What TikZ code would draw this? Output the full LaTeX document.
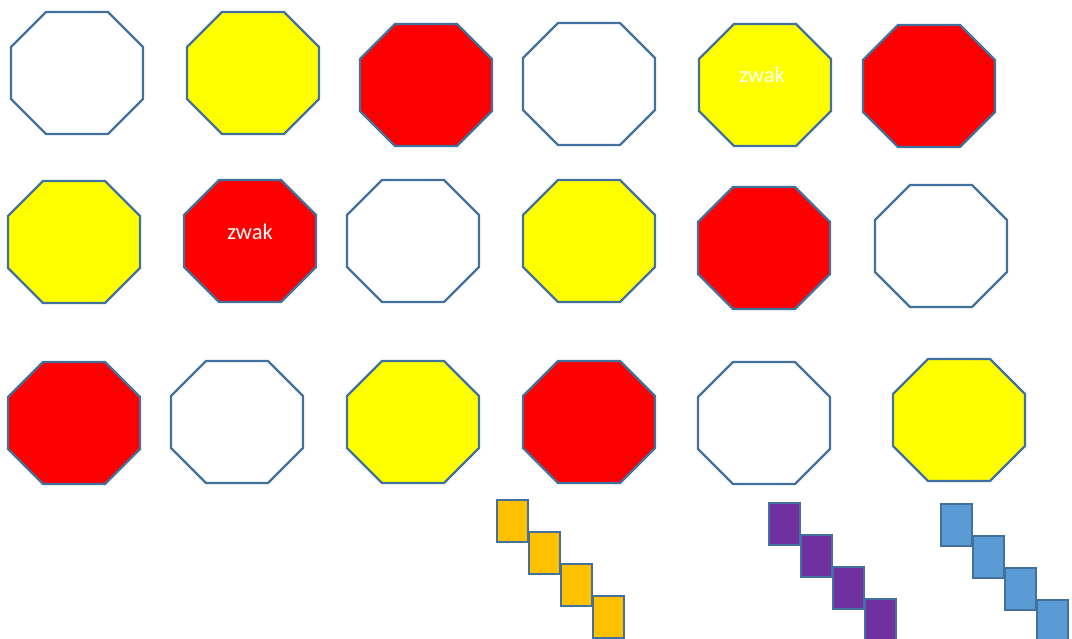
\documentclass[tikz,border=0pt]{standalone}
\usepackage{fontspec}
\setmainfont{Carlito}
\definecolor{edge}{HTML}{41719C}
\definecolor{oyel}{HTML}{FFFF00}
\definecolor{ored}{HTML}{FF0000}
\definecolor{sqorange}{HTML}{FFC000}
\definecolor{sqpurple}{HTML}{7030A0}
\definecolor{sqblue}{HTML}{5B9BD5}
\tikzset{
  oct/.pic={\path[draw=edge,line width=2.4pt,line join=miter,pic actions]
     (35,0)--(97,0)--(132,35)--(132,87)--(97,122)--(35,122)--(0,87)--(0,35)--cycle;},
  wh/.style={fill=white},
  ye/.style={fill=oyel},
  re/.style={fill=ored},
  lbl/.style={text=white,font=\fontsize{22.5}{26}\selectfont,inner sep=0pt},
  sq/.style={draw=edge,line width=2.4pt,minimum width=31pt,minimum height=42pt,inner sep=0pt,anchor=north west}
}
\begin{document}
\begin{tikzpicture}[x=1pt,y=-1pt]
\useasboundingbox[fill=white] (0,0) rectangle (1072,639);
% row 1
\pic[wh] (o11) at (11,12) {oct};
\pic[ye] (o12) at (187,12) {oct};
\pic[re] (o13) at (360,24) {oct};
\pic[wh] (o14) at (523,23) {oct};
\pic[ye] (o15) at (699,24) {oct};
\pic[re] (o16) at (863,25) {oct};
% row 2
\pic[ye] (o21) at (8,181) {oct};
\pic[re] (o22) at (184,180) {oct};
\pic[wh] (o23) at (347,180) {oct};
\pic[ye] (o24) at (523,180) {oct};
\pic[re] (o25) at (698,187) {oct};
\pic[wh] (o26) at (875,185) {oct};
% row 3
\pic[re] (o31) at (8,362) {oct};
\pic[wh] (o32) at (171,361) {oct};
\pic[ye] (o33) at (347,361) {oct};
\pic[re] (o34) at (523,361) {oct};
\pic[wh] (o35) at (698,362) {oct};
\pic[ye] (o36) at (893,359) {oct};
% labels
\node[lbl] (t1) at (762,75) {zwak};
\node[lbl] (t2) at (250,232) {zwak};
% orange squares
\node[sq,fill=sqorange] (a1) at (496,499) {};
\node[sq,fill=sqorange] (a2) at (528,531) {};
\node[sq,fill=sqorange] (a3) at (560,563) {};
\node[sq,fill=sqorange] (a4) at (592,595) {};
% purple squares
\node[sq,fill=sqpurple] (b1) at (768,502) {};
\node[sq,fill=sqpurple] (b2) at (800,534) {};
\node[sq,fill=sqpurple] (b3) at (832,566) {};
\node[sq,fill=sqpurple] (b4) at (864,598) {};
% blue squares
\node[sq,fill=sqblue] (c1) at (940,503) {};
\node[sq,fill=sqblue] (c2) at (972,535) {};
\node[sq,fill=sqblue] (c3) at (1004,567) {};
\node[sq,fill=sqblue] (c4) at (1036,599) {};
\end{tikzpicture}
\end{document}
